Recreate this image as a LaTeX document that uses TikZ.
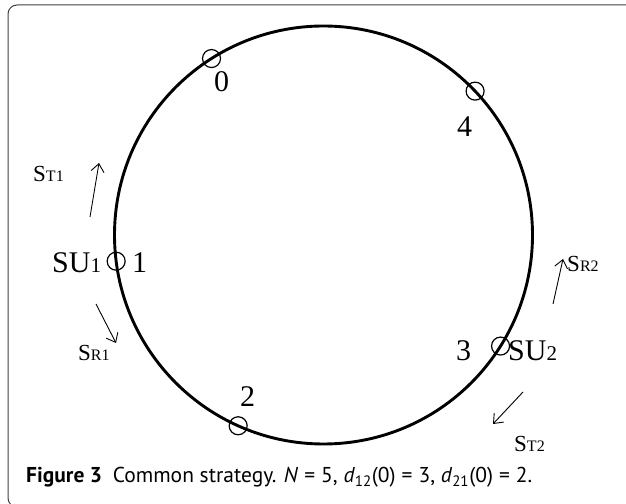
\documentclass[tikz,border=0pt]{standalone}
\usepackage{fontspec}
\setmainfont{Liberation Serif}
\newfontfamily\capfont{PT Sans}
\usetikzlibrary{arrows.meta,calc}
\newcommand\susub[1]{{\fontsize{21}{21}\selectfont #1}}
\newcommand\ssub[1]{{\fontsize{16}{16}\selectfont #1}}
\newcommand\capeq{\hspace{0.28em}=\hspace{0.28em}}
\tikzset{
  ring/.style={line width=2.9pt},
  marker/.style={circle, draw, line width=1.2pt, minimum size=18pt, inner sep=0pt},
  big/.style={font=\fontsize{30}{30}\selectfont, inner sep=0pt, anchor=base west},
  sig/.style={font=\fontsize{23}{23}\selectfont, inner sep=0pt, anchor=base west},
  flow/.style={line width=0.9pt, -{Straight Barb[length=8pt,width=13pt]}},
  frame/.style={draw=black!75, line width=1pt, rounded corners=9pt}
}
\begin{document}
\begin{tikzpicture}[x=1pt,y=1pt]
\useasboundingbox (0,0) rectangle (626,503);
\clip (0,0) rectangle (626,503);
\draw[frame] (660,498) -- (8,498) -- (8,-4) -- (60,-4);
% ring
\coordinate (c) at (323.5,268);
\draw[ring] (c) circle (209);
% markers
\node[marker] (m0) at ($(c)+(122.4:209)$) {};
\node[marker] (m4) at ($(c)+(43.5:209)$) {};
\node[marker] (m1) at ($(c)+(187.2:209)$) {};
\node[marker] (m2) at ($(c)+(245.9:209)$) {};
\node[marker] (m3) at ($(c)+(-32.1:209)$) {};
% labels
\node[big] (l0) at (214,411) {0};
\node[big] (l4) at (457,366) {4};
\node[big] (l1) at (132,230) {1};
\node[big] (su1) at (52,230) {SU\susub{1}};
\node[big] (l2) at (240,96) {2};
\node[big] (l3) at (456,142) {3};
\node[big] (su2) at (508,142) {SU\susub{2}};
\node[sig] (st1) at (33,321) {S\ssub{T1}};
\node[sig] (sr1) at (78,142) {S\ssub{R1}};
\node[sig] (sr2) at (567,231) {S\ssub{R2}};
\node[sig] (st2) at (514,51) {S\ssub{T2}};
% arrows
\coordinate (t1a) at (90,286);  \coordinate (t1b) at (99,340);
\coordinate (r1a) at (96,199);  \coordinate (r1b) at (116,160);
\coordinate (r2a) at (553,199); \coordinate (r2b) at (563,244);
\coordinate (t2a) at (523,111); \coordinate (t2b) at (493,79);
\draw[flow] (t1a) -- (t1b);
\draw[flow] (r1a) -- (r1b);
\draw[flow] (r2a) -- (r2b);
\draw[flow] (t2a) -- (t2b);
% caption
\node[anchor=base west, inner sep=0pt] (cap) at (26,20) {\resizebox{506pt}{!}{\capfont\fontsize{17}{17}\selectfont\textbf{Figure 3}\hspace{0.5em}Common strategy. \textit{N}\capeq 5, \textit{d}\textsubscript{12}(0)\capeq 3, \textit{d}\textsubscript{21}(0)\capeq 2.}};
\end{tikzpicture}
\end{document}
